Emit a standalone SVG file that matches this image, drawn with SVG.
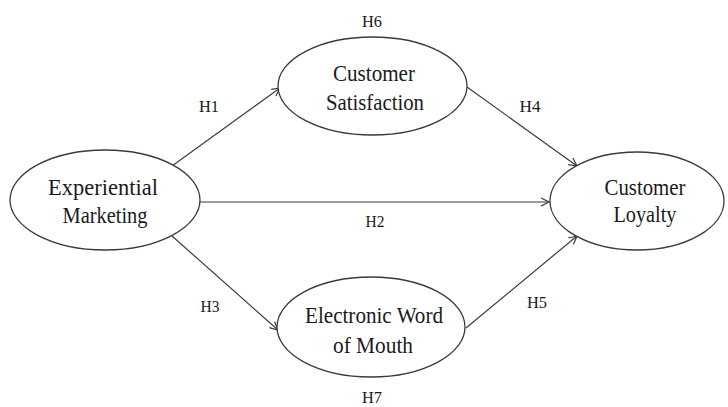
<svg xmlns="http://www.w3.org/2000/svg" width="728" height="407" viewBox="0 0 728 407">
  <style>
    .node ellipse { fill: #ffffff; stroke: #3a3a3a; stroke-width: 1.3; }
    .label { font-family: "Liberation Serif", "Times New Roman", serif; font-size: 24px; fill: #1a1a1a; text-anchor: middle; }
    .hyp { font-family: "Liberation Serif", "Times New Roman", serif; font-size: 17px; fill: #1a1a1a; text-anchor: middle; }
    .edge { stroke: #3a3a3a; stroke-width: 1.2; fill: none; marker-end: url(#arrow); }
  </style>
  <defs>
    <marker id="arrow" markerWidth="10" markerHeight="10" refX="9" refY="5" orient="auto" markerUnits="userSpaceOnUse">
      <path d="M1,1 L9,5 L1,9" fill="none" stroke="#3a3a3a" stroke-width="1.2"/>
    </marker>
  </defs>

  <rect width="728" height="407" fill="#ffffff"/>

  <g id="connectors">
    <line class="edge" x1="172" y1="166" x2="280" y2="88"/>
    <line class="edge" x1="200" y1="202" x2="549" y2="202"/>
    <line class="edge" x1="172" y1="236" x2="278" y2="330"/>
    <line class="edge" x1="467" y1="87" x2="577" y2="166"/>
    <line class="edge" x1="466" y1="328" x2="577" y2="236"/>
  </g>

  <g id="experiential-marketing" class="node">
    <ellipse cx="105" cy="200" rx="95" ry="50"/>
    <text class="label" x="103" y="195" textLength="110" lengthAdjust="spacingAndGlyphs">Experiential</text>
    <text class="label" x="105" y="223" textLength="85" lengthAdjust="spacingAndGlyphs">Marketing</text>
  </g>

  <g id="customer-satisfaction" class="node">
    <ellipse cx="372.5" cy="86" rx="94.5" ry="49"/>
    <text class="label" x="374" y="81" textLength="82" lengthAdjust="spacingAndGlyphs">Customer</text>
    <text class="label" x="375" y="110" textLength="98" lengthAdjust="spacingAndGlyphs">Satisfaction</text>
  </g>

  <g id="electronic-wom" class="node">
    <ellipse cx="371" cy="327" rx="94" ry="50"/>
    <text class="label" x="374" y="323" textLength="138" lengthAdjust="spacingAndGlyphs">Electronic Word</text>
    <text class="label" x="373" y="353" textLength="80" lengthAdjust="spacingAndGlyphs">of Mouth</text>
  </g>

  <g id="customer-loyalty" class="node">
    <ellipse cx="637" cy="201" rx="87" ry="49"/>
    <text class="label" x="645" y="195" textLength="81" lengthAdjust="spacingAndGlyphs">Customer</text>
    <text class="label" x="645" y="222" textLength="63" lengthAdjust="spacingAndGlyphs">Loyalty</text>
  </g>

  <g id="hypotheses">
    <text class="hyp" x="372" y="27" textLength="20" lengthAdjust="spacingAndGlyphs">H6</text>
    <text class="hyp" x="209" y="112" textLength="20" lengthAdjust="spacingAndGlyphs">H1</text>
    <text class="hyp" x="530" y="112" textLength="21" lengthAdjust="spacingAndGlyphs">H4</text>
    <text class="hyp" x="375" y="227" textLength="19" lengthAdjust="spacingAndGlyphs">H2</text>
    <text class="hyp" x="210" y="312" textLength="19" lengthAdjust="spacingAndGlyphs">H3</text>
    <text class="hyp" x="537" y="308" textLength="20" lengthAdjust="spacingAndGlyphs">H5</text>
    <text class="hyp" x="372" y="403" textLength="20" lengthAdjust="spacingAndGlyphs">H7</text>
  </g>
</svg>
